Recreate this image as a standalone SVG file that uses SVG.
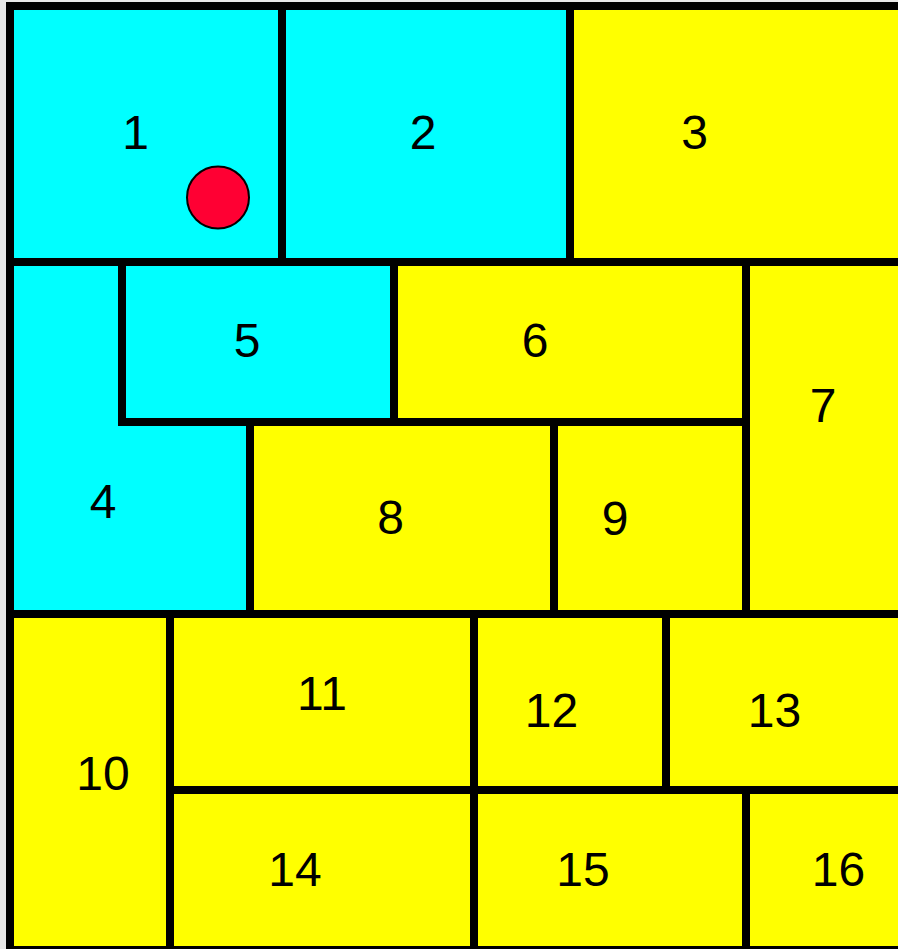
<svg xmlns="http://www.w3.org/2000/svg" width="898" height="949" viewBox="0 0 898 949">
<style>
.c{fill:#00ffff}
.y{fill:#ffff00}
text{font-family:"Liberation Sans",Arial,Helvetica,sans-serif;font-size:48px;fill:#000;text-anchor:middle}
.ln{stroke:#000;stroke-width:8;stroke-linecap:square;fill:none}
</style>
<rect x="0" y="0" width="898" height="949" fill="#e8e8e8"/>
<g id="cell1"><rect class="c" x="10" y="6" width="272" height="256"/><text x="135.5" y="149">1</text></g>
<g id="cell2"><rect class="c" x="282" y="6" width="288" height="256"/><text x="423" y="149">2</text></g>
<g id="cell3"><rect class="y" x="570" y="6" width="340" height="256"/><text x="694.5" y="149">3</text></g>
<g id="cell4"><polygon class="c" points="10,262 122,262 122,422 250,422 250,614 10,614"/><text x="103" y="517.5">4</text></g>
<g id="cell5"><rect class="c" x="122" y="262" width="272" height="160"/><text x="247" y="357">5</text></g>
<g id="cell6"><rect class="y" x="394" y="262" width="352" height="160"/><text x="535" y="357">6</text></g>
<g id="cell7"><rect class="y" x="746" y="262" width="164" height="352"/><text x="823" y="421.5">7</text></g>
<g id="cell8"><rect class="y" x="250" y="422" width="304" height="192"/><text x="390.5" y="534">8</text></g>
<g id="cell9"><rect class="y" x="554" y="422" width="192" height="192"/><text x="615" y="535">9</text></g>
<g id="cell10"><rect class="y" x="10" y="614" width="160" height="340"/><text x="103" y="790">10</text></g>
<g id="cell11"><rect class="y" x="170" y="614" width="304" height="176"/><text x="322" y="710">11</text></g>
<g id="cell12"><rect class="y" x="474" y="614" width="192" height="176"/><text x="551.5" y="727">12</text></g>
<g id="cell13"><rect class="y" x="666" y="614" width="244" height="176"/><text x="774.5" y="727">13</text></g>
<g id="cell14"><rect class="y" x="170" y="790" width="304" height="164"/><text x="295" y="886">14</text></g>
<g id="cell15"><rect class="y" x="474" y="790" width="272" height="164"/><text x="583" y="886">15</text></g>
<g id="cell16"><rect class="y" x="746" y="790" width="164" height="164"/><text x="838.5" y="886">16</text></g>
<g id="lines">
<path class="ln" d="M10,6 H910 M10,6 V950 M10,950 H910"/>
<path class="ln" d="M282,6 V262 M570,6 V262 M10,262 H910"/>
<path class="ln" d="M122,262 V422 M394,262 V422 M122,422 H746 M746,262 V614"/>
<path class="ln" d="M250,422 V614 M554,422 V614 M10,614 H910"/>
<path class="ln" d="M170,614 V950 M474,614 V950 M666,614 V790 M170,790 H910 M746,790 V950"/>
</g>
<g id="token"><circle cx="218" cy="197.5" r="31" fill="#ff0033" stroke="#000" stroke-width="2"/></g>
</svg>
